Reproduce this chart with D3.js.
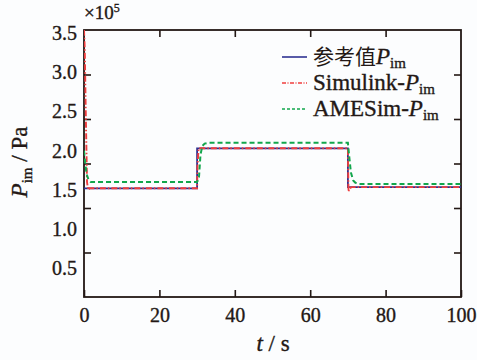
<!DOCTYPE html>
<html>
<head>
<meta charset="utf-8">
<script src="https://cdn.jsdelivr.net/npm/d3@7"></script>
<style>
  body { margin: 0; background: #fcfdfe; }
</style>
</head>
<body>
<script>
const w = 477;
const h = 360;
const margin = { top: 30, right: 16, bottom: 63, left: 84 };
const iw = w - margin.left - margin.right;
const ih = h - margin.top - margin.bottom;
const serif = "'Liberation Serif', 'DejaVu Serif', serif";

// data (pressure in 1e5 Pa)
const tRef = [0, 30, 30, 70, 70, 100];
const pRef = [1.52, 1.52, 2.03, 2.03, 1.535, 1.535];

const tSim = [0, 0.2, 0.5, 0.8, 1.1, 1.5, 30, 30.1, 30.4, 70, 70.15, 70.4, 71, 100];
const pSim = [3.54, 3.3, 2.4, 1.6, 1.5, 1.52, 1.52, 1.8, 2.03, 2.03, 1.48, 1.52, 1.535, 1.535];

const tAme = [0, 0.3, 0.7, 1.2, 1.8, 30, 30.5, 30.9, 31.4, 32, 33, 70, 70.3, 70.8, 71.4, 72, 73, 100];
const pAme = [2.0, 1.85, 1.7, 1.63, 1.6, 1.6, 1.66, 1.95, 2.06, 2.09, 2.1, 2.1, 1.95, 1.72, 1.62, 1.59, 1.575, 1.575];

const xTicks = [0, 20, 40, 60, 80, 100];
const yLabels = [0.5, 1.0, 1.5, 2.0, 2.5, 3.0, 3.5];
const yMarks = [1.0, 1.5, 2.0, 2.5, 3.0];

const svg = d3.select("body").append("svg").attr("width", w).attr("height", h);
const g = svg.append("g").attr("transform", "translate(" + margin.left + "," + margin.top + ")");

const xScale = d3.scaleLinear().domain([0, 100]).range([0, iw]);
const yScale = d3.scaleLinear().domain([0.134, 3.538]).range([ih, 0]);
// tick marks of the frame sit on their own grid
const markScale = d3.scaleLinear().domain([0.5, 3.5]).range([ih, 0]);

// bottom axis with labels
g.append("g")
  .attr("transform", "translate(0," + ih + ")")
  .call(d3.axisBottom(xScale).tickValues(xTicks).tickSizeInner(-7).tickSizeOuter(0).tickPadding(11).tickFormat(d3.format("d")))
  .attr("font-size", 20);
// top axis
g.append("g")
  .call(d3.axisTop(xScale).tickValues(xTicks.slice(1, -1)).tickSizeInner(-7).tickSizeOuter(0).tickFormat(""));
// left labels
g.append("g")
  .call(d3.axisLeft(yScale).tickValues(yLabels).tickSize(0).tickPadding(7).tickFormat(d3.format(".1f")))
  .attr("font-size", 20);
// left marks
g.append("g")
  .call(d3.axisLeft(markScale).tickValues(yMarks).tickSizeInner(-7).tickSizeOuter(0).tickFormat(""));
// right marks
g.append("g")
  .attr("transform", "translate(" + iw + ",0)")
  .call(d3.axisRight(markScale).tickValues(yMarks).tickSizeInner(-7).tickSizeOuter(0).tickFormat(""));

g.selectAll(".domain").remove();
g.selectAll(".tick line").attr("stroke", "#231815").attr("stroke-width", 1.6);

// frame
g.append("rect")
  .attr("width", iw)
  .attr("height", ih)
  .attr("fill", "none")
  .attr("stroke", "#231815")
  .attr("stroke-width", 1.8);

const line = d3.line().x(d => xScale(d[0])).y(d => yScale(d[1]));

const series = [
  { t: tRef, p: pRef, color: "#2e3192", dash: null, width: 1.8 },
  { t: tSim, p: pSim, color: "#ef3e3e", dash: "6,2,1.5,2", width: 1.9 },
  { t: tAme, p: pAme, color: "#12a64c", dash: "5,3", width: 2 }
];

svg.append("clipPath").attr("id", "clip").append("rect").attr("width", iw).attr("height", ih);

series.forEach(s => {
  g.append("path")
    .datum(s.t.map((t, i) => [t, s.p[i]]))
    .attr("clip-path", "url(#clip)")
    .attr("d", line)
    .attr("fill", "none")
    .attr("stroke", s.color)
    .attr("stroke-width", s.width)
    .attr("stroke-dasharray", s.dash);
});

// legend
const legend = svg.append("g");
const names = ["参考值", "Simulink-", "AMESim-"];
names.forEach((n, i) => {
  const y = 57 + i * 26;
  const s = series[i];
  legend.append("line")
    .attr("x1", 282).attr("x2", 307).attr("y1", y).attr("y2", y)
    .attr("stroke", s.color).attr("stroke-width", 1.6)
    .attr("stroke-dasharray", i === 0 ? null : (i === 1 ? "4,1.5,1,1.5" : "3,2"));
  const t = legend.append("text").attr("x", 313).attr("y", y + 7).attr("font-size", 23);
  if (i === 0) {
    t.append("tspan").attr("class", "cjk").attr("font-size", 21).text(n);
  } else {
    t.append("tspan").text(n);
  }
  t.append("tspan").attr("font-style", "italic").text("P");
  t.append("tspan").attr("dy", 4).attr("font-size", 15).text("im");
});

// x10^5
const ex = svg.append("text").attr("x", 84).attr("y", 19).attr("font-size", 19);
ex.append("tspan").text("×10");
ex.append("tspan").attr("dy", -7).attr("font-size", 12).text("5");

// axis titles
const yl = svg.append("text")
  .attr("transform", "translate(27,162) rotate(-90)")
  .attr("text-anchor", "middle")
  .attr("font-size", 23);
yl.append("tspan").attr("font-style", "italic").text("P");
yl.append("tspan").attr("dy", 5).attr("font-size", 15).text("im");
yl.append("tspan").attr("dy", -5).text(" / Pa");

const xl = svg.append("text")
  .attr("x", 273)
  .attr("y", 351)
  .attr("text-anchor", "middle")
  .attr("font-size", 23);
xl.append("tspan").attr("font-style", "italic").text("t");
xl.append("tspan").text(" / s");

svg.selectAll("text, tspan")
  .style("font-family", serif)
  .style("fill", "#231815")
  .style("stroke", "#231815")
  .style("stroke-width", 0.35);
svg.selectAll("tspan.cjk").style("font-family", "'Noto Sans CJK SC', sans-serif").style("stroke-width", 0);
</script>
</body>
</html>
